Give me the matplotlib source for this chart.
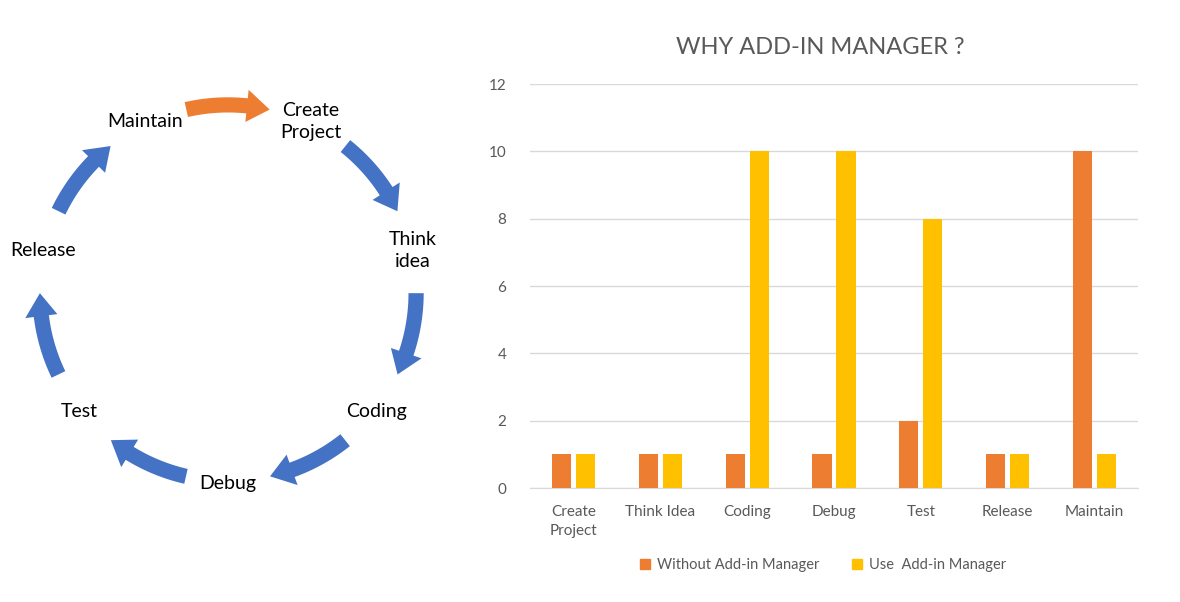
'''
plot.py

Purpose: development cycle diagram (left) plus "WHY ADD-IN MANAGER ?" bar chart (right).
'''
import numpy as np
import matplotlib
matplotlib.use("Agg")
import matplotlib.pyplot as plt
from matplotlib.patches import Polygon, Patch

############################################################################
## data
cycle_steps = ["Create\nProject", "Think\nidea", "Coding", "Debug", "Test", "Release", "Maintain"]

categories = ["Create\nProject", "Think Idea", "Coding", "Debug", "Test", "Release", "Maintain"]
without_mgr = [1, 1, 1, 1, 2, 1, 10]
use_mgr = [1, 1, 10, 10, 8, 1, 1]
series_names = ["Without Add-in Manager", "Use  Add-in Manager"]

ORANGE = "#ED7D31"
YELLOW = "#FFC000"
BLUE = "#4472C4"
GREY = "#595959"
GRID = "#D9D9D9"

plt.rcParams['font.family'] = ['Lato', 'DejaVu Sans']

W, H = 1180, 602
fig = plt.figure(figsize=(W / 100, H / 100), dpi=100)

############################################################################
## left: cycle diagram on a unit circle
cx, cy, rad = 228, 293, 190          # centre / radius in pixels
axc = fig.add_axes([0, 0, 2 * cx / W, 1])
axc.set_xlim(-cx / rad, cx / rad)
axc.set_ylim(-(H - cy) / rad, cy / rad)
axc.axis("off")


def arc_arrow(ax, a0, a1, color, r=0.99, w=0.08, hw=0.17, hl=7.0):
  ## clockwise arc arrow from angle a0 to a1 (degrees), head at a1
  base = a1 + hl
  t = np.radians(np.linspace(a0, base, 40))
  outer = np.column_stack([(r + w / 2) * np.cos(t), (r + w / 2) * np.sin(t)])
  inner = np.column_stack([(r - w / 2) * np.cos(t), (r - w / 2) * np.sin(t)])[::-1]
  b = np.radians(base)
  e = np.radians(a1)
  head = [[(r + hw / 2) * np.cos(b), (r + hw / 2) * np.sin(b)],
          [r * np.cos(e), r * np.sin(e)],
          [(r - hw / 2) * np.cos(b), (r - hw / 2) * np.sin(b)]]
  pts = np.vstack([outer, head, inner])
  ax.add_patch(Polygon(pts, closed=True, facecolor=color, edgecolor="none"))


n = len(cycle_steps)
step = 360.0 / n
angles = [-90 + 3 * step - i * step for i in range(n)]
for i, lab in enumerate(cycle_steps):
  a = np.radians(angles[i])
  axc.text(np.cos(a), np.sin(a), lab, ha="center", va="center",
           fontsize=14, color="black", linespacing=1.38)
  mid = angles[i] - step / 2
  col = ORANGE if i == n - 1 else BLUE
  arc_arrow(axc, mid + 12.8, mid - 12.8, col)

############################################################################
## right: bar chart
ax = fig.add_axes([530 / W, 114 / H, 608 / W, 404 / H])
x = np.arange(len(categories))
bw = 0.22
ax.bar(x - 0.138, without_mgr, bw, color=ORANGE, label=series_names[0], zorder=3)
ax.bar(x + 0.138, use_mgr, bw, color=YELLOW, label=series_names[1], zorder=3)

ax.set_xlim(-0.5, len(categories) - 0.5)
ax.set_ylim(0, 12)
ax.set_yticks(range(0, 13, 2))
ax.set_xticks(x)
ax.set_xticklabels(categories, linespacing=1.5)
ax.grid(axis="y", color=GRID, lw=1, zorder=0)
for s in ["top", "right", "left"]:
  ax.spines[s].set_visible(False)
ax.spines["bottom"].set_color(GRID)
ax.tick_params(length=0, colors=GREY, labelsize=11)
ax.tick_params(axis="y", pad=17)
ax.tick_params(axis="x", pad=12)
for t in ax.get_xticklabels():
  t.set_va("top")

fig.text(820 / W, 1 - 48 / H, "WHY ADD-IN MANAGER ?", ha="center", va="center",
         fontsize=17, color=GREY)

handles = [Patch(color=ORANGE), Patch(color=YELLOW)]
fig.legend(handles, series_names, loc="center", bbox_to_anchor=(823 / W, 37 / H),
           ncol=2, frameon=False, handlelength=0.7, handleheight=0.7,
           handletextpad=0.5, columnspacing=2.2, fontsize=10.5, labelcolor=GREY)

plt.savefig("out.png", dpi=100)
